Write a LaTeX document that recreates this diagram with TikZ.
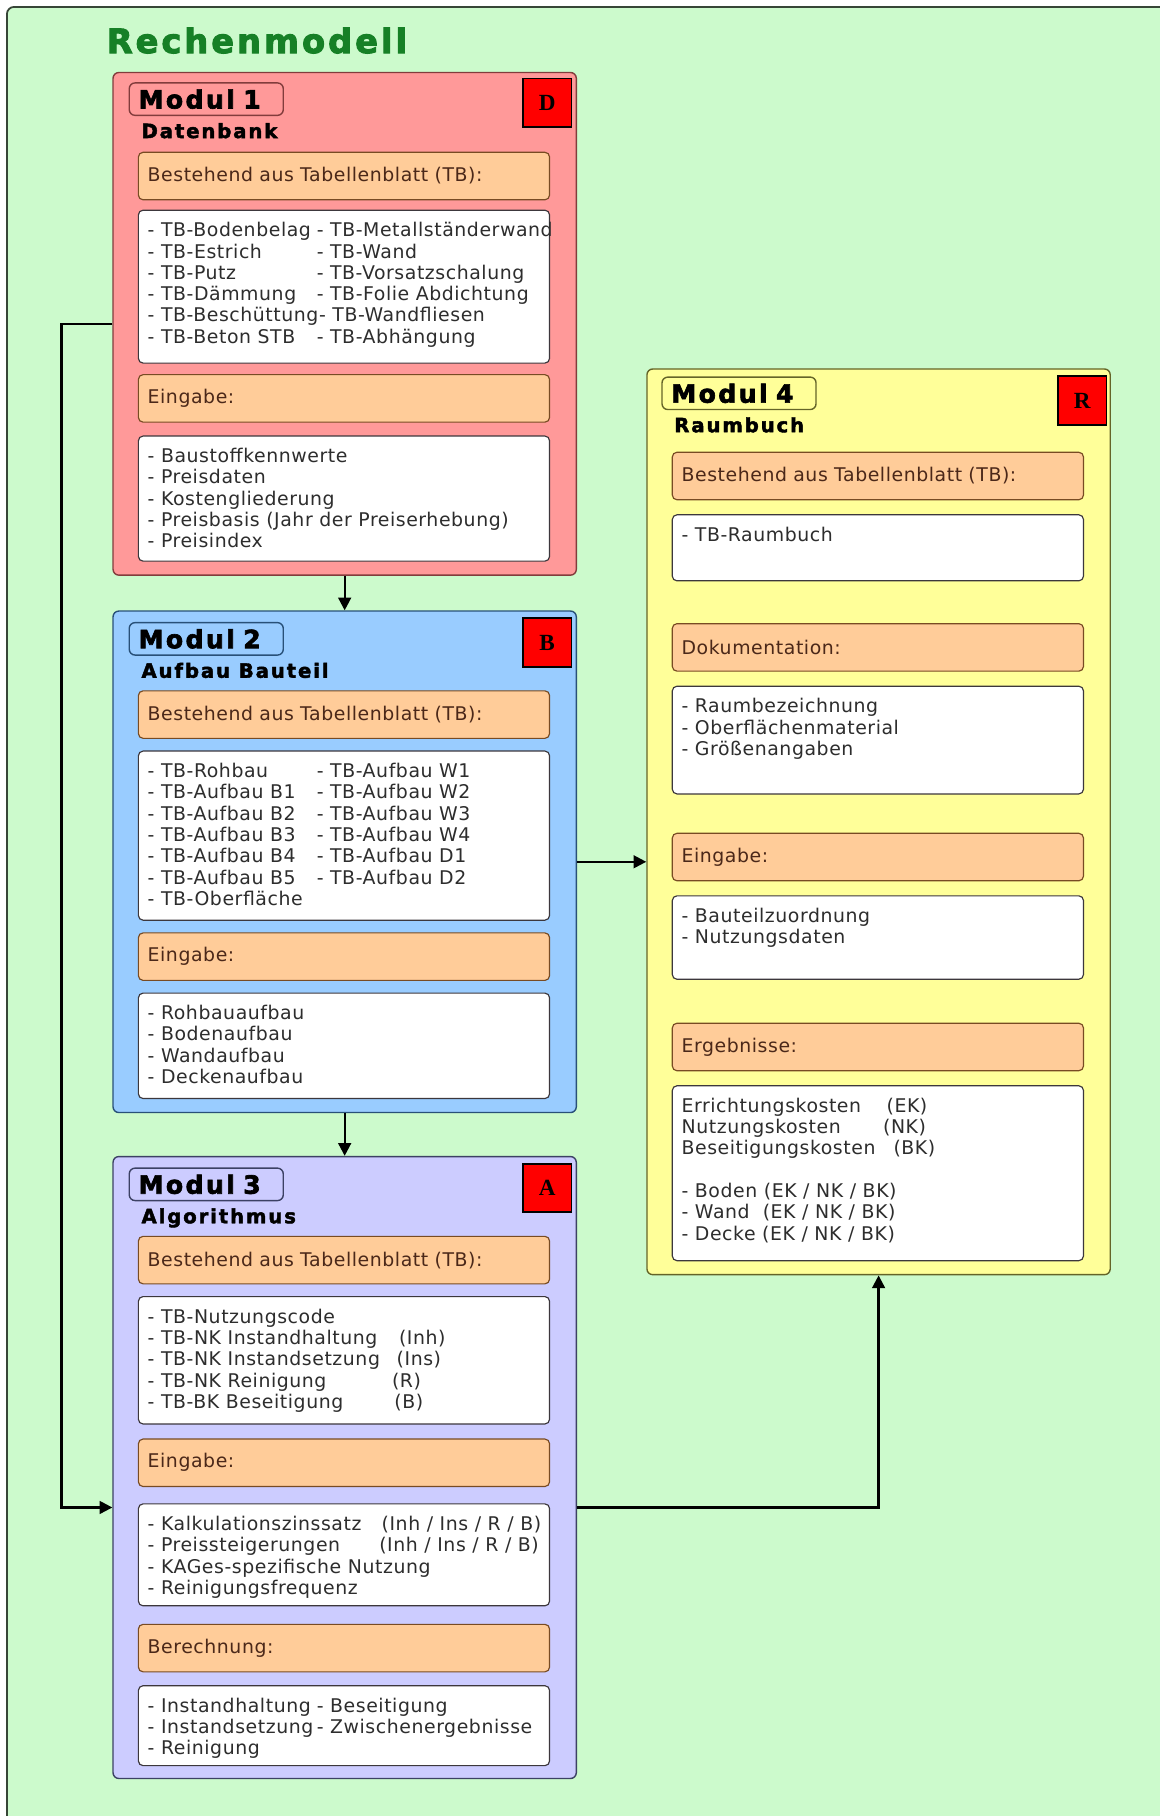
\documentclass[tikz,border=0pt]{standalone}
\usepackage{fontspec}
\setmainfont{DejaVu Sans}[LetterSpace=3]
\newfontfamily\titelfont{DejaVu Sans Bold}[LetterSpace=9, FakeBold=3]
\newfontfamily\modulfont{DejaVu Sans Bold}[LetterSpace=9.5, FakeBold=2.5]
\newfontfamily\unterfont{DejaVu Sans Bold}[LetterSpace=9.5, FakeBold=2.2]
\newfontfamily\kennfont{Liberation Serif}
\usepackage{tikz}
\usetikzlibrary{positioning, arrows.meta}

\definecolor{hintergrund}{RGB}{204,250,204}
\definecolor{rahmen}{RGB}{55,70,55}
\definecolor{titelgruen}{RGB}{22,128,38}
\definecolor{dbrot}{RGB}{255,153,153}
\definecolor{dbrand}{RGB}{130,60,60}
\definecolor{aufblau}{RGB}{153,204,255}
\definecolor{aufrand}{RGB}{40,80,120}
\definecolor{alglila}{RGB}{204,204,255}
\definecolor{algrand}{RGB}{60,65,100}
\definecolor{raumgelb}{RGB}{255,255,153}
\definecolor{raumrand}{RGB}{100,100,40}
\definecolor{kopf}{RGB}{255,204,153}
\definecolor{kopfrand}{RGB}{120,75,35}
\definecolor{kopftext}{RGB}{75,40,25}
\definecolor{listrand}{RGB}{60,55,60}
\definecolor{listtext}{RGB}{45,45,45}

% Liste oben buendig, #1 = Hoehe der Box
\newcommand{\inhalt}[2]{\parbox[t][\dimexpr#1-20pt\relax][t]{339pt}{\strut#2}}
\newcommand{\zwei}[3]{\makebox[#1][l]{#2}\mbox{#3}}

\tikzstyle{modul} = [draw, line width=1.2pt, rounded corners=5pt, anchor=north west, minimum width=400pt, inner sep=0pt]
\tikzstyle{tag} = [draw, line width=1.2pt, rounded corners=5pt, minimum width=133pt, minimum height=28pt, text width=117pt, inner xsep=8pt, inner ysep=0pt, align=left, font=\modulfont\fontsize{21.7}{22}\selectfont]
\tikzstyle{unter} = [anchor=base west, inner sep=0pt, font=\unterfont\fontsize{17}{18}\selectfont]
\tikzstyle{kennung} = [draw=black, fill=red, line width=1.5pt, minimum size=42pt, inner sep=0pt, anchor=north east, font=\kennfont\bfseries\fontsize{20}{20}\selectfont]
\tikzstyle{kopfbox} = [draw=kopfrand, fill=kopf, line width=1pt, rounded corners=4pt, anchor=north west, minimum width=355pt, minimum height=41pt, text width=339pt, inner xsep=8pt, inner ysep=0pt, align=left, text=kopftext, font=\fontsize{16.3}{18.4}\selectfont]
\tikzstyle{liste} = [draw=listrand, fill=white, line width=1pt, rounded corners=4pt, anchor=north west, minimum width=355pt, inner xsep=8pt, inner ysep=10pt, text=listtext, font=\fontsize{16.3}{18.4}\selectfont]
\tikzstyle{pfeil} = [->, line width=2pt]

\begin{document}
\begin{tikzpicture}[x=1pt, y=-1pt, >={Triangle[length=11pt,width=11pt]}]
    \useasboundingbox (0,0) rectangle (1001,1568);
    \fill [white] (0,0) rectangle (1001,1568);
    \fill [hintergrund, rounded corners=6pt] (6,1600) -- (6,6) -- (1040,6) -- (1040,1600) -- cycle;
    \draw [rahmen, line width=1.5pt, rounded corners=6pt] (6,1600) -- (6,6) -- (1040,6);

    \node (titel) [anchor=west, inner sep=0pt, text=titelgruen, font=\titelfont\fontsize{29}{30}\selectfont] at (92,35) {Rechenmodell};

    % Modul 1
    \node (m1) [modul, fill=dbrot, draw=dbrand, minimum height=434pt] at (97,62) {};
    \node (t1) [tag, draw=dbrand, below right=9pt and 14pt of m1.north west] {Modul 1};
    \node (u1) [unter] at ([xshift=11pt,yshift=-19pt]t1.south west) {Datenbank};
    \node (k1) [kennung] at ([xshift=-4pt,yshift=-5pt]m1.north east) {D};
    \node (h11) [kopfbox, below right=69pt and 22pt of m1.north west] {Bestehend aus Tabellenblatt (TB):};
    \node (l11) [liste, below=8pt of h11] {\inhalt{132pt}{\zwei{146pt}{- TB-Bodenbelag}{- TB-Metallständerwand}\\
        \zwei{146pt}{- TB-Estrich}{- TB-Wand}\\
        \zwei{146pt}{- TB-Putz}{- TB-Vorsatzschalung}\\
        \zwei{146pt}{- TB-Dämmung}{- TB-Folie Abdichtung}\\
        - TB-Beschüttung- TB-Wandfliesen\\
        \zwei{146pt}{- TB-Beton STB}{- TB-Abhängung}}};
    \node (h12) [kopfbox, below=9pt of l11] {Eingabe:};
    \node (l12) [liste, below=11pt of h12] {\inhalt{108pt}{- Baustoffkennwerte\\
        - Preisdaten\\
        - Kostengliederung\\
        - Preisbasis (Jahr der Preiserhebung)\\
        - Preisindex}};

    % Modul 2
    \node (m2) [modul, fill=aufblau, draw=aufrand, minimum height=433pt] at (97,527) {};
    \node (t2) [tag, draw=aufrand, below right=10pt and 14pt of m2.north west] {Modul 2};
    \node (u2) [unter] at ([xshift=11pt,yshift=-19pt]t2.south west) {Aufbau Bauteil};
    \node (k2) [kennung] at ([xshift=-4pt,yshift=-6pt]m2.north east) {B};
    \node (h21) [kopfbox, below right=69pt and 22pt of m2.north west] {Bestehend aus Tabellenblatt (TB):};
    \node (l21) [liste, below=10pt of h21] {\inhalt{146pt}{\zwei{146pt}{- TB-Rohbau}{- TB-Aufbau W1}\\
        \zwei{146pt}{- TB-Aufbau B1}{- TB-Aufbau W2}\\
        \zwei{146pt}{- TB-Aufbau B2}{- TB-Aufbau W3}\\
        \zwei{146pt}{- TB-Aufbau B3}{- TB-Aufbau W4}\\
        \zwei{146pt}{- TB-Aufbau B4}{- TB-Aufbau D1}\\
        \zwei{146pt}{- TB-Aufbau B5}{- TB-Aufbau D2}\\
        - TB-Oberfläche}};
    \node (h22) [kopfbox, below=10pt of l21] {Eingabe:};
    \node (l22) [liste, below=10pt of h22] {\inhalt{91pt}{- Rohbauaufbau\\
        - Bodenaufbau\\
        - Wandaufbau\\
        - Deckenaufbau}};

    % Modul 3
    \node (m3) [modul, fill=alglila, draw=algrand, minimum height=537pt] at (97,998) {};
    \node (t3) [tag, draw=algrand, below right=10pt and 14pt of m3.north west] {Modul 3};
    \node (u3) [unter] at ([xshift=11pt,yshift=-19pt]t3.south west) {Algorithmus};
    \node (k3) [kennung] at ([xshift=-4pt,yshift=-6pt]m3.north east) {A};
    \node (h31) [kopfbox, below right=69pt and 22pt of m3.north west] {Bestehend aus Tabellenblatt (TB):};
    \node (l31) [liste, below=10pt of h31] {\inhalt{110pt}{- TB-Nutzungscode\\
        \zwei{217pt}{- TB-NK Instandhaltung}{(Inh)}\\
        \zwei{215pt}{- TB-NK Instandsetzung}{(Ins)}\\
        \zwei{211pt}{- TB-NK Reinigung}{(R)}\\
        \zwei{213pt}{- TB-BK Beseitigung}{(B)}}};
    \node (h32) [kopfbox, below=12pt of l31] {Eingabe:};
    \node (l32) [liste, below=14pt of h32] {\inhalt{88pt}{\zwei{202pt}{- Kalkulationszinssatz}{(Inh / Ins / R / B)}\\
        \zwei{200pt}{- Preissteigerungen}{(Inh / Ins / R / B)}\\
        - KAGes-spezifische Nutzung\\
        - Reinigungsfrequenz}};
    \node (h33) [kopfbox, below=15pt of l32] {Berechnung:};
    \node (l33) [liste, below=11pt of h33] {\inhalt{69pt}{\zwei{146pt}{- Instandhaltung}{- Beseitigung}\\
        \zwei{146pt}{- Instandsetzung}{- Zwischenergebnisse}\\
        - Reinigung}};

    % Modul 4
    \node (m4) [modul, fill=raumgelb, draw=raumrand, minimum height=782pt] at (558,318) {};
    \node (t4) [tag, draw=raumrand, below right=7pt and 13pt of m4.north west] {Modul 4};
    \node (u4) [unter] at ([xshift=11pt,yshift=-19pt]t4.south west) {Raumbuch};
    \node (k4) [kennung] at ([xshift=-3pt,yshift=-6pt]m4.north east) {R};
    \node (h41) [kopfbox, below right=72pt and 22pt of m4.north west] {Bestehend aus Tabellenblatt (TB):};
    \node (l41) [liste, below=12pt of h41] {\inhalt{57pt}{- TB-Raumbuch}};
    \node (h42) [kopfbox, below=36pt of l41] {Dokumentation:};
    \node (l42) [liste, below=12pt of h42] {\inhalt{93pt}{- Raumbezeichnung\\
        - Oberflächenmaterial\\
        - Größenangaben}};
    \node (h43) [kopfbox, below=33pt of l42] {Eingabe:};
    \node (l43) [liste, below=12pt of h43] {\inhalt{72pt}{- Bauteilzuordnung\\
        - Nutzungsdaten}};
    \node (h44) [kopfbox, below=37pt of l43] {Ergebnisse:};
    \node (l44) [liste, below=12pt of h44] {\inhalt{151pt}{\zwei{177pt}{Errichtungskosten}{(EK)}\\
        \zwei{174pt}{Nutzungskosten}{(NK)}\\
        \zwei{183pt}{Beseitigungskosten}{(BK)}\\[18.4pt]
        - Boden (EK / NK / BK)\\
        - Wand\ \ (EK / NK / BK)\\
        - Decke (EK / NK / BK)}};

    % Verbindungen
    \coordinate (m3ein) at ([yshift=-34.5pt]m3.west);
    \draw [pfeil] (m1.south) -- (m2.north);
    \draw [pfeil] (m2.south) -- (m3.north);
    \draw [pfeil] (m2.east) -- (m2.east -| m4.west);
    \draw [pfeil] (m1.west) -- ++(-44,0) |- (m3ein);
    \draw [pfeil] (m3ein -| m3.east) -| (m4.south);
\end{tikzpicture}
\end{document}
